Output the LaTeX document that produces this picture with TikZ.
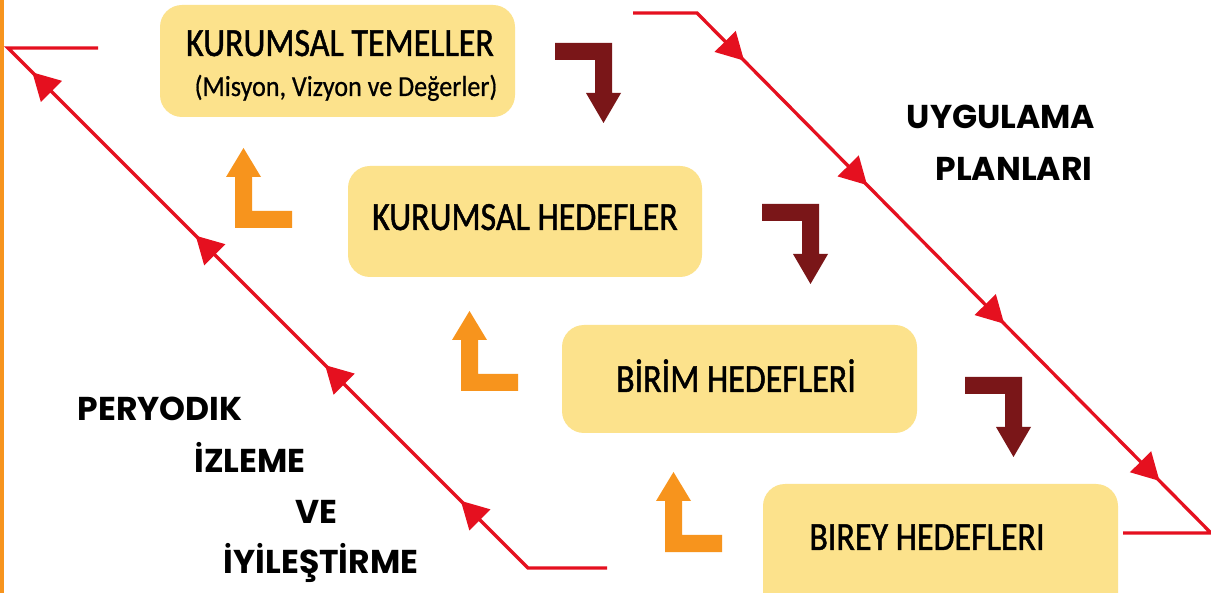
\documentclass[tikz,border=0pt]{standalone}
\usepackage{fontspec}
\setmainfont{Carlito}
\newfontfamily\boxfont{Carlito}[FakeStretch=0.85,FakeBold=1.2]
\newfontfamily\subfont{Carlito}[FakeStretch=0.9,FakeBold=0.6]
\newfontfamily\lblfont{Poppins}
\usetikzlibrary{arrows.meta,decorations.markings}
\definecolor{boxy}{RGB}{252,226,140}
\definecolor{orangeA}{RGB}{247,148,29}
\definecolor{darkA}{RGB}{122,22,24}
\definecolor{redl}{RGB}{229,16,31}
\tikzset{
  stagebox/.style={fill=boxy, rounded corners=22pt, inner sep=0pt},
  boxtext/.style={font=\boxfont\fontsize{40}{44}\selectfont, anchor=base, inner sep=0pt},
  subtext/.style={font=\subfont\fontsize{29}{33}\selectfont, anchor=base, inner sep=0pt},
  lbl/.style={font=\lblfont\bfseries\fontsize{33}{36}\selectfont, anchor=base, inner sep=0pt},
  redline/.style={color=redl, line width=3.3pt, line join=miter},
  rtip/.tip={Triangle[length=27pt,width=29pt]},
  uparr/.pic={\fill[orangeA] (0,0) -- (57,0) -- (57,-17) -- (17,-17) -- (17,-51) -- (26,-51) -- (8.5,-80) -- (-9,-51) -- (0,-51) -- cycle;},
  downarr/.pic={\fill[darkA] (0,0) -- (57,0) -- (57,50) -- (66,50) -- (48.5,80) -- (31,50) -- (40,50) -- (40,17) -- (0,17) -- cycle;}
}
\begin{document}
\begin{tikzpicture}[x=1pt,y=-1pt]
\useasboundingbox (0,0) rectangle (1211,593);
\clip (0,0) rectangle (1211,593);
\fill[white] (0,0) rectangle (1211,593);
% orange edge bar
\fill[orangeA] (0,0) rectangle (4,593);

% boxes
\node[stagebox, minimum width=355pt, minimum height=112pt] (b1) at (337.5,61) {};
\node[stagebox, minimum width=354pt, minimum height=111pt] (b2) at (525,221.5) {};
\node[stagebox, minimum width=355pt, minimum height=108pt] (b3) at (739.5,379) {};
\node[stagebox, minimum width=355pt, minimum height=140pt] (b4) at (940.5,554) {};

\node[boxtext] (t1) at (340,56) {KURUMSAL TEMELLER};
\node[subtext] (t1s) at (346,96) {(Misyon, Vizyon ve Değerler)};
\node[boxtext] (t2) at (525,230) {KURUMSAL HEDEFLER};
\node[boxtext] (t3) at (736,392) {BİRİM HEDEFLERİ};
\node[boxtext] (t4) at (927,550) {BIREY HEDEFLERI};

% corner arrows
\pic at (555,43) {downarr};
\pic at (762,204) {downarr};
\pic at (965,377) {downarr};
\pic at (235,228) {uparr};
\pic at (461,391) {uparr};
\pic at (665,552) {uparr};

% right red path (Uygulama)
\coordinate (r1) at (633,13);
\coordinate (r2) at (697,13);
\coordinate (r3) at (1211,533);
\coordinate (r4) at (1123,533);
\draw[redline, decoration={markings,
   mark=at position 131pt with {\arrow{rtip}},
   mark=at position 306pt with {\arrow{rtip}},
   mark=at position 501pt with {\arrow{rtip}},
   mark=at position 722pt with {\arrow{rtip}}}, postaction={decorate}]
  (r1) -- (r2) -- (r3) -- (r4);

% left red path (Izleme)
\coordinate (l1) at (607,568);
\coordinate (l2) at (528,568);
\coordinate (l3) at (8,48);
\coordinate (l4) at (98,48);
\draw[redline, decoration={markings,
   mark=at position 174pt with {\arrow{rtip}},
   mark=at position 366pt with {\arrow{rtip}},
   mark=at position 549pt with {\arrow{rtip}},
   mark=at position 780pt with {\arrow{rtip}}}, postaction={decorate}]
  (l1) -- (l2) -- (l3) -- (l4);

% labels
\node[lbl] (u1) at (1001,129) {UYGULAMA};
\node[lbl] (u2) at (1014,181) {PLANLARI};
\node[lbl] (p1) at (160,421) {PERYODIK};
\node[lbl] (p2) at (250,473) {İZLEME};
\node[lbl] (p3) at (316,523) {VE};
\node[lbl] (p4) at (321,573) {İYİLEŞTİRME};
\end{tikzpicture}
\end{document}
